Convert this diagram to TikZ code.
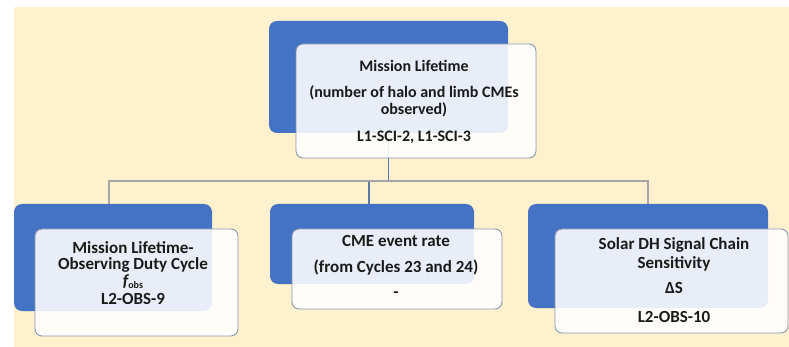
\documentclass[tikz,border=0pt]{standalone}
\usepackage{fontspec}
\setmainfont{Carlito}
\usetikzlibrary{calc}
\definecolor{cream}{HTML}{FFF1CE}
\definecolor{boxblue}{HTML}{4472C4}
\definecolor{boxedge}{HTML}{8497B0}
\definecolor{linegray}{HTML}{A5A5A5}
\definecolor{stemblue}{HTML}{5A77B0}
\definecolor{txt}{HTML}{1A1A1A}
\begin{document}
\begin{tikzpicture}[x=1pt,y=-1pt,
  backbox/.style={fill=boxblue,rounded corners=8pt,inner sep=0pt,outer sep=0pt},
  frontbox/.style={fill=white,fill opacity=0.88,draw=boxedge,line width=0.9pt,rounded corners=7pt,inner sep=0pt,outer sep=0pt},
  boxtext/.style={text=txt,font=\fontsize{16}{17}\selectfont\bfseries,align=center,inner sep=0pt,anchor=north},
  subtext/.style={boxtext,font=\fontsize{17}{17}\selectfont\bfseries},
  conn/.style={draw=linegray,line width=1.4pt},
  stem/.style={draw=stemblue,line width=1.2pt}]
\useasboundingbox (0,0) rectangle (789,347);
\fill[white] (0,0) rectangle (789,347);
\fill[cream] (14,7) rectangle (789,347);
% back (blue) boxes
\node[backbox,minimum width=239pt,minimum height=112pt] (tb) at (388.5,77) {};
\node[backbox,minimum width=198pt,minimum height=107pt] (lb) at (113,257.5) {};
\node[backbox,minimum width=204pt,minimum height=80pt] (mb) at (372,244) {};
\node[backbox,minimum width=240pt,minimum height=104pt] (rb) at (648,256) {};
% connectors
\coordinate (bus) at (0,181);
\draw[stem] (tb.south) -- (tb.south |- bus) -| ([xshift=-3pt]mb.north);
\draw[conn] (tb.south |- bus) -| ([xshift=-4pt]lb.north);
\draw[conn] (tb.south |- bus) -| (rb.north);
% front (white) boxes
\node[frontbox,minimum width=240pt,minimum height=114pt] (tw) at (416,101) {};
\node[frontbox,minimum width=203pt,minimum height=107pt] (lw) at (136.5,282.5) {};
\node[frontbox,minimum width=210pt,minimum height=80pt] (mw) at (397,269) {};
\node[frontbox,minimum width=233pt,minimum height=104pt] (rw) at (671.5,281) {};
% texts
\node[boxtext] (tt) at (414,60) {Mission Lifetime\\[9pt](number of halo and limb CMEs\\observed)\\[10pt]L1-SCI-2, L1-SCI-3};
\node[subtext,font=\fontsize{17}{16}\selectfont\bfseries] (lt) at (133,241) {Mission Lifetime-\\Observing Duty Cycle\\[1pt]{\itshape f}\raisebox{-2pt}{\fontsize{10}{10}\selectfont obs}\\[2pt]L2-OBS-9};
\node[subtext] (mt) at (396,235.5) {CME event rate\\[9pt](from Cycles 23 and 24)\\[8pt]-};
\node[subtext] (rt) at (674,237.5) {Solar DH Signal Chain\\[2pt]Sensitivity\\[8pt]ΔS\\[12pt]L2-OBS-10};
\end{tikzpicture}
\end{document}
